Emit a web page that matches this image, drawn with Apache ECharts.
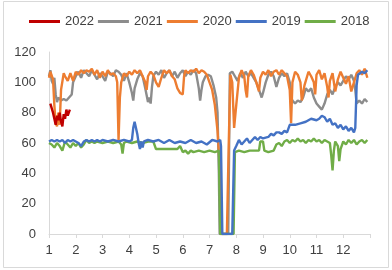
<!DOCTYPE html>
<html><head><meta charset="utf-8">
<script src="https://cdn.jsdelivr.net/npm/echarts@6/dist/echarts.min.js"></script>
<style>html,body{margin:0;padding:0;background:#fff}#c{width:392px;height:270px}</style>
</head><body><div id="c"></div>
<script>
const monthLabels = ['1','2','3','4','5','6','7','8','9','10','11','12'];
const yTicks = [0,20,40,60,80,100,120];
const seriesNames = ['2022','2021','2020','2019','2018'];

const s2022 = [[1.05,86],[1.1,83],[1.15,80],[1.2,76],[1.25,72],[1.3,78],[1.35,75],[1.4,80],[1.45,74],[1.5,71],[1.55,79],[1.6,76],[1.65,82],[1.7,78],[1.78,82]];

const s2021 = [[1.0,104],[1.05,108],[1.1,101],[1.15,99],[1.2,103],[1.25,92],[1.3,87],[1.35,90],[1.45,88],[1.55,89],[1.65,88],[1.75,90],[1.85,92],[1.9,100],[2.0,104],[2.1,107],[2.2,103],[2.3,108],[2.4,106],[2.5,104],[2.6,108],[2.7,105],[2.8,102],[2.9,106],[3.0,104],[3.1,101],[3.2,107],[3.3,106],[3.4,104],[3.5,108],[3.6,107],[3.7,105],[3.8,101],[3.9,106],[4.0,100],[4.1,93],[4.15,88],[4.2,96],[4.3,102],[4.4,106],[4.5,104],[4.6,96],[4.7,87],[4.75,90],[4.8,86],[4.85,97],[4.9,104],[5.0,107],[5.1,105],[5.2,108],[5.3,103],[5.4,106],[5.5,108],[5.6,104],[5.7,107],[5.8,103],[5.9,106],[6.0,108],[6.1,104],[6.2,107],[6.3,105],[6.4,108],[6.5,106],[6.6,96],[6.65,88],[6.7,95],[6.75,100],[6.85,104],[6.95,105],[7.05,104],[7.15,98],[7.25,90],[7.3,80],[7.35,40],[7.38,0],[7.5,0],[7.7,0],[7.73,50],[7.76,106],[7.85,107],[7.95,104],[8.05,101],[8.15,106],[8.25,103],[8.35,107],[8.45,104],[8.55,106],[8.65,103],[8.75,100],[8.85,95],[8.95,90],[9.0,93],[9.1,100],[9.2,105],[9.3,107],[9.4,104],[9.5,97],[9.6,103],[9.7,106],[9.8,104],[9.9,106],[10.0,100],[10.05,90],[10.1,88],[10.2,86],[10.3,88],[10.4,87],[10.5,90],[10.6,96],[10.7,94],[10.8,96],[10.9,90],[11.0,86],[11.1,84],[11.2,82],[11.3,86],[11.4,92],[11.5,95],[11.6,92],[11.7,97],[11.8,100],[11.9,98],[12.0,101],[12.1,104],[12.2,102],[12.3,105],[12.4,101],[12.45,95],[12.5,86],[12.6,88],[12.7,86],[12.8,89],[12.9,87]];

const s2020 = [[1.0,103],[1.05,107],[1.1,106],[1.15,102],[1.2,85],[1.25,73],[1.3,71],[1.35,80],[1.4,72],[1.45,95],[1.55,106],[1.6,104],[1.7,101],[1.8,106],[1.9,101],[2.0,107],[2.1,105],[2.2,108],[2.3,106],[2.4,108],[2.5,107],[2.6,109],[2.7,105],[2.8,108],[2.9,103],[3.0,107],[3.1,104],[3.2,108],[3.3,105],[3.4,106],[3.5,104],[3.55,100],[3.6,62],[3.65,90],[3.7,100],[3.8,106],[3.9,104],[4.0,107],[4.1,105],[4.2,108],[4.3,106],[4.4,108],[4.5,104],[4.6,100],[4.65,95],[4.7,104],[4.8,107],[4.9,105],[5.0,100],[5.1,97],[5.2,103],[5.3,108],[5.4,106],[5.5,108],[5.6,104],[5.7,102],[5.8,96],[5.9,93],[6.0,92],[6.05,104],[6.1,108],[6.2,106],[6.3,108],[6.4,107],[6.5,109],[6.6,106],[6.7,108],[6.8,107],[6.9,105],[7.0,100],[7.1,95],[7.2,85],[7.3,68],[7.4,40],[7.45,0],[7.65,0],[7.72,60],[7.78,105],[7.85,100],[7.92,70],[8.0,85],[8.1,103],[8.2,108],[8.3,104],[8.35,95],[8.4,90],[8.45,104],[8.55,108],[8.65,105],[8.75,100],[8.85,94],[8.9,103],[9.0,107],[9.1,105],[9.2,108],[9.3,104],[9.4,107],[9.5,108],[9.6,105],[9.7,108],[9.8,106],[9.9,104],[10.0,95],[10.05,73],[10.1,100],[10.2,107],[10.3,105],[10.4,100],[10.45,88],[10.55,98],[10.7,107],[10.8,104],[10.9,100],[10.95,92],[11.0,105],[11.1,108],[11.2,102],[11.3,106],[11.4,97],[11.45,90],[11.5,101],[11.6,106],[11.7,94],[11.8,102],[11.9,107],[12.0,103],[12.1,99],[12.2,104],[12.3,94],[12.4,100],[12.5,106],[12.6,108],[12.7,105],[12.8,109],[12.9,103]];

const s2019 = [[1.0,61],[1.1,62],[1.2,61],[1.3,62],[1.4,61],[1.5,62],[1.6,60],[1.7,62],[1.8,61],[1.9,62],[2.0,61],[2.1,60],[2.2,58],[2.3,61],[2.4,62],[2.5,61],[2.6,62],[2.7,61],[2.8,62],[2.9,61],[3.0,62],[3.2,61],[3.4,62],[3.6,61],[3.8,62],[4.0,61],[4.1,62],[4.15,70],[4.2,74],[4.25,75],[4.3,66],[4.35,60],[4.4,56],[4.45,61],[4.5,57],[4.55,61],[4.7,62],[4.9,61],[5.1,62],[5.3,60],[5.5,62],[5.7,60],[5.9,61],[6.1,60],[6.3,62],[6.5,60],[6.7,61],[6.9,59],[7.1,62],[7.3,61],[7.4,62],[7.43,58],[7.48,0],[7.85,0],[7.92,55],[8.0,58],[8.1,62],[8.2,59],[8.3,61],[8.4,63],[8.5,60],[8.6,62],[8.7,64],[8.8,62],[8.9,64],[9.0,63],[9.2,64],[9.3,66],[9.4,65],[9.5,67],[9.6,67],[9.7,66],[9.8,68],[9.9,67],[10.0,72],[10.2,72],[10.4,73],[10.6,74],[10.8,76],[11.0,75],[11.1,76],[11.2,78],[11.3,77],[11.4,74],[11.5,76],[11.6,72],[11.7,73],[11.8,70],[11.9,72],[12.0,69],[12.1,71],[12.2,68],[12.3,70],[12.4,67],[12.45,70],[12.5,98],[12.55,105],[12.7,107],[12.8,106],[12.9,108]];

const s2018 = [[1.0,60],[1.1,59],[1.2,57],[1.3,60],[1.4,58],[1.5,55],[1.6,61],[1.7,59],[1.8,57],[1.9,60],[2.0,58],[2.1,60],[2.2,57],[2.3,59],[2.4,62],[2.5,60],[2.6,61],[2.7,60],[2.8,61],[3.0,60],[3.2,61],[3.4,60],[3.6,61],[3.7,59],[3.75,53],[3.8,60],[3.9,61],[4.1,60],[4.3,61],[4.5,60],[4.7,61],[4.9,61],[5.0,56],[5.2,56],[5.4,56],[5.6,56],[5.8,56],[5.9,58],[6.0,54],[6.1,55],[6.2,53],[6.3,55],[6.4,54],[6.6,55],[6.8,54],[7.0,55],[7.2,54],[7.35,55],[7.4,0],[7.9,0],[7.95,54],[8.1,55],[8.3,54],[8.5,55],[8.7,55],[8.85,55],[8.9,61],[9.0,61],[9.05,55],[9.2,54],[9.4,55],[9.5,59],[9.6,60],[9.7,58],[9.8,61],[9.9,62],[10.0,60],[10.1,62],[10.2,61],[10.3,63],[10.4,61],[10.5,62],[10.6,60],[10.7,62],[10.8,61],[10.9,63],[11.0,61],[11.1,62],[11.2,60],[11.3,62],[11.4,61],[11.5,60],[11.55,52],[11.6,42],[11.65,55],[11.7,61],[11.8,58],[11.85,48],[11.9,56],[12.0,61],[12.1,59],[12.2,62],[12.3,60],[12.4,62],[12.5,59],[12.6,61],[12.7,62],[12.8,60],[12.9,62]];

const colors = {'2022':'#C00000','2021':'#8C8C8C','2020':'#ED7D31','2019':'#4472C4','2018':'#70AD47'};
const dataMap = {'2022':s2022,'2021':s2021,'2020':s2020,'2019':s2019,'2018':s2018};
const drawOrder = ['2021','2020','2018','2019','2022'];

const chart = echarts.init(document.getElementById('c'), null, {renderer:'canvas'});
const font = 'Liberation Sans, Arial, sans-serif';
chart.setOption({
  animation:false,
  backgroundColor:'#fff',
  graphic:[{type:'rect',shape:{x:3.5,y:1.5,width:385,height:266},style:{fill:'none',stroke:'#d9d9d9',lineWidth:1},silent:true}],
  legend:{
    data:seriesNames, left:29, top:15, padding:0, itemGap:4, itemWidth:31, itemHeight:3, icon:'rect',
    textStyle:{fontSize:13,color:'#404040',fontFamily:font}
  },
  grid:{left:49,right:22,top:52,bottom:36,containLabel:false},
  xAxis:{
    type:'value', min:1, max:13, interval:1,
    axisLine:{lineStyle:{color:'#d9d9d9',width:1}},
    axisTick:{show:true,length:4,lineStyle:{color:'#d9d9d9'}},
    splitLine:{show:false},
    axisLabel:{margin:10,fontSize:13,color:'#404040',fontFamily:font,
      formatter:function(v){const i=Math.round(v)-1;return (i>=0&&i<monthLabels.length)?monthLabels[i]:'';}}
  },
  yAxis:{
    type:'value', min:yTicks[0], max:yTicks[yTicks.length-1], interval:20,
    axisLine:{show:true,lineStyle:{color:'#d9d9d9',width:1}},
    axisTick:{show:false},
    splitLine:{show:false},
    axisLabel:{margin:13,fontSize:13,color:'#404040',fontFamily:font}
  },
  series:drawOrder.map(n=>({
    name:n,type:'line',data:dataMap[n],showSymbol:false,symbol:'none',
    lineStyle:{color:colors[n],width:2.4},itemStyle:{color:colors[n]},
    emphasis:{disabled:true}
  }))
});
</script></body></html>
